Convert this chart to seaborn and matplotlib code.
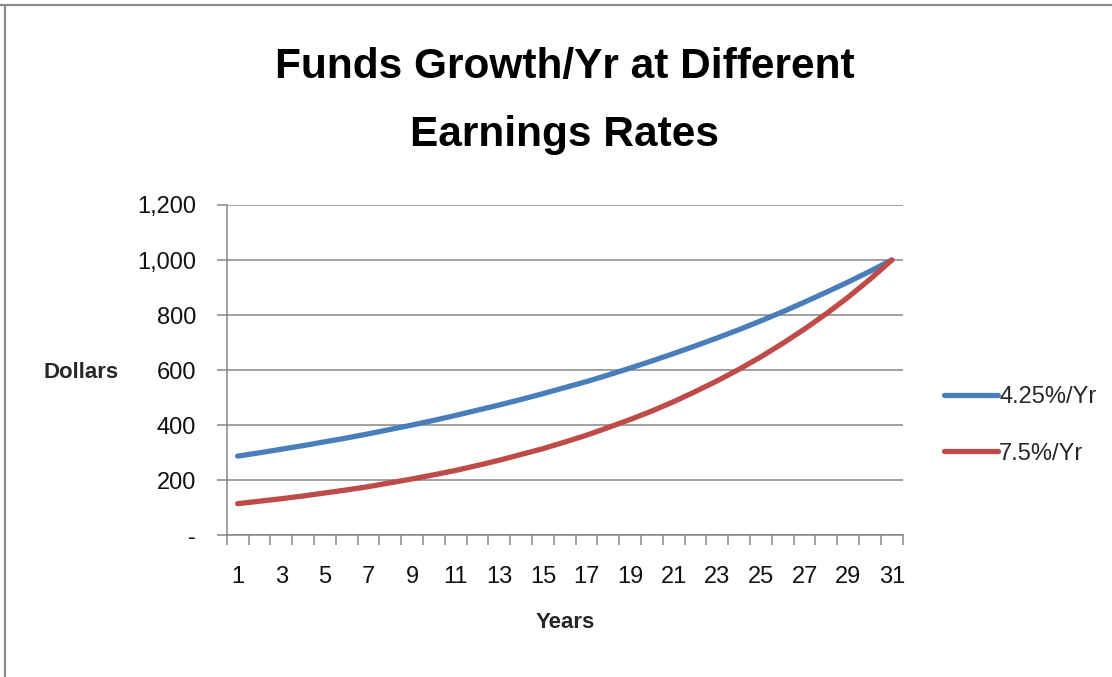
import numpy as np
import pandas as pd
import matplotlib
matplotlib.use("Agg")
import matplotlib.pyplot as plt
import seaborn as sns
from matplotlib.lines import Line2D
from matplotlib.ticker import FuncFormatter, MultipleLocator

# data
years = list(range(1, 32))
slow = [287, 299, 312, 325, 339, 353, 368, 384, 400, 417, 435, 454, 473, 493,
        514, 536, 558, 582, 607, 633, 660, 688, 717, 747, 779, 812, 847, 883,
        920, 959, 1000]
fast = [114, 123, 132, 142, 153, 164, 176, 190, 204, 219, 235, 253, 272, 293,
        314, 338, 363, 391, 420, 451, 485, 522, 561, 603, 648, 697, 749, 805,
        865, 930, 1000]
series_names = ["4.25%/Yr", "7.5%/Yr"]

df = pd.DataFrame({
    "Years": years * 2,
    "Dollars": slow + fast,
    "rate": [series_names[0]] * 31 + [series_names[1]] * 31,
})

sns.set_style("white")
plt.rcParams["font.family"] = ["Liberation Sans", "DejaVu Sans"]

fig = plt.figure(figsize=(11.12, 6.77), dpi=100)
ax = fig.add_axes([0.2039, 0.2097, 0.6079, 0.4875])

sns.lineplot(data=df, x="Years", y="Dollars", hue="rate",
             palette=["#4A7EBB", "#BE4B48"], linewidth=3.8, ax=ax,
             solid_capstyle="round")

grid = "#868686"
ax.set_xlim(0.5, 31.5)
ax.set_ylim(0, 1200)
ax.yaxis.set_major_locator(MultipleLocator(200))
ax.yaxis.set_major_formatter(FuncFormatter(lambda v, p: "-" if v == 0 else f"{int(v):,}"))
ax.grid(axis="y", color=grid, linewidth=1.1)
ax.set_axisbelow(True)
ax.set_xticks(years[::2])
ax.set_xticks(np.arange(0.5, 32, 1), minor=True)
ax.tick_params(which="both", left=True, bottom=True)
ax.tick_params(axis="x", which="major", length=0, pad=22, labelsize=17)
ax.tick_params(axis="x", which="minor", length=7, width=1.1, color=grid, direction="out")
ax.tick_params(axis="y", length=7, width=1.1, color=grid, pad=15, labelsize=17, direction="out")
ax.tick_params(axis="both", labelcolor="#111111")
for s in ["top", "right"]:
    ax.spines[s].set_visible(False)
for s in ["left", "bottom"]:
    ax.spines[s].set_color(grid)
    ax.spines[s].set_linewidth(1.1)

ax.set_xlabel("")
ax.set_ylabel("")
fig.text(0.0387, 0.4505, "Dollars", fontsize=16, fontweight="bold", va="center", ha="left")
fig.text(0.508, 0.0798, "Years", fontsize=16, fontweight="bold", va="center", ha="center")

fig.text(0.508, 0.901, "Funds Growth/Yr at Different", fontsize=30.5, fontweight="bold",
         ha="center", va="center", color="#000000")
fig.text(0.508, 0.800, "Earnings Rates", fontsize=30.5, fontweight="bold",
         ha="center", va="center", color="#000000")

leg = ax.legend(loc="center left", bbox_to_anchor=(0.838, 0.3715),
                bbox_transform=fig.transFigure, frameon=False, fontsize=17,
                handlelength=2.3, handletextpad=0.05, labelspacing=1.45, borderpad=0)
for h in leg.get_lines():
    h.set_linewidth(3.8)
    h.set_solid_capstyle("round")

# outer chart frame (top and left only visible)
fig.add_artist(Line2D([0, 1], [1 - 4.5 / 677] * 2, color="#8C8C8C", linewidth=1.6,
                      transform=fig.transFigure))
fig.add_artist(Line2D([5 / 1112] * 2, [0, 1 - 4.5 / 677], color="#8C8C8C", linewidth=1.6,
                      transform=fig.transFigure))

fig.savefig("out.png", dpi=100)
